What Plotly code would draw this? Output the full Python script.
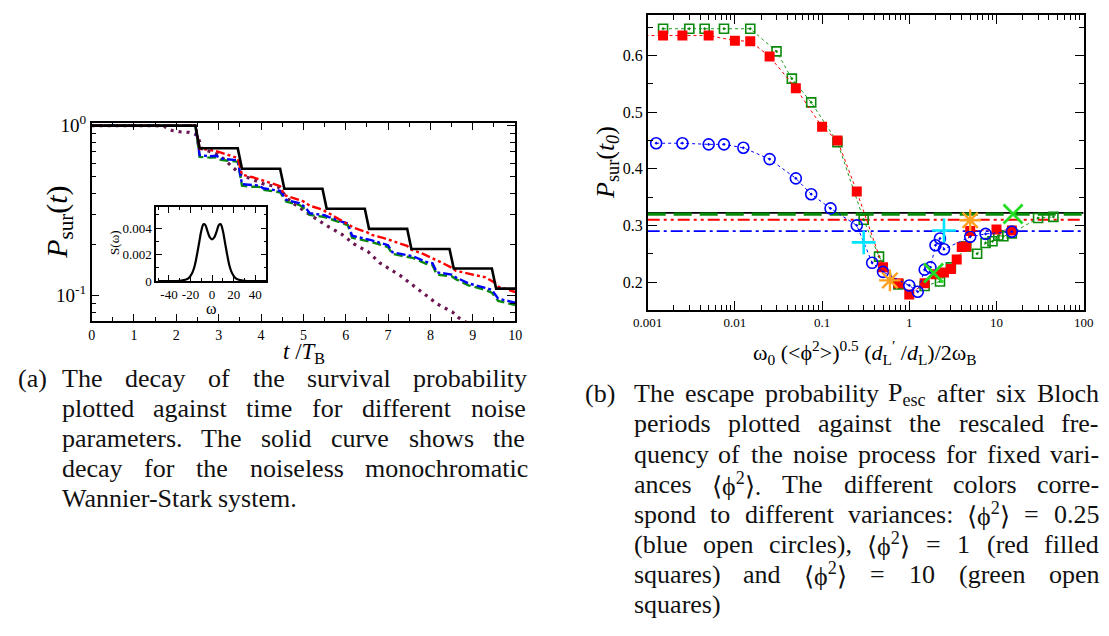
import re
import plotly.graph_objects as go

W, H = 1109, 636
SERIF = "Liberation Serif"

# ---------------- panel (a): survival probability vs time ----------------
t_black = [0, 2.45, 2.55, 3.45, 3.55, 4.45, 4.55, 5.45, 5.55, 6.45, 6.55, 7.45, 7.55,
           8.45, 8.55, 9.45, 9.55, 10.0]
p_black = [1.0, 1.0, 0.736, 0.736, 0.558, 0.558, 0.425, 0.425, 0.324, 0.324, 0.247, 0.247,
           0.188, 0.188, 0.1445, 0.1445, 0.110, 0.110]

t_red = [0, 2.45, 2.55, 2.8, 3.0, 3.3, 3.45, 3.55, 3.8, 4.2, 4.45, 4.55, 5.0, 5.15, 5.45,
         5.6, 6.2, 6.5, 6.6, 6.9, 7.45, 7.55, 7.8, 8.25, 8.5, 8.6, 9.3, 9.5, 9.6, 10.0]
p_red = [1.0, 1.0, 0.73, 0.72, 0.70, 0.66, 0.645, 0.515, 0.497, 0.462, 0.44, 0.39, 0.358,
         0.338, 0.32, 0.305, 0.25, 0.236, 0.228, 0.218, 0.196, 0.186, 0.177, 0.157, 0.146,
         0.14, 0.128, 0.12, 0.113, 0.105]

t_blue = [0, 2.45, 2.55, 2.8, 2.95, 3.05, 3.45, 3.55, 3.8, 3.95, 4.05, 4.45, 4.6, 4.9, 5.05,
          5.15, 5.5, 5.6, 5.95, 6.05, 6.15, 6.5, 6.6, 7.0, 7.1, 7.3, 7.6, 7.9, 8.05, 8.15,
          8.5, 8.6, 8.9, 9.3, 9.45, 9.6, 10.0]
p_blue = [1.0, 1.0, 0.67, 0.66, 0.665, 0.64, 0.625, 0.452, 0.447, 0.445, 0.428, 0.413, 0.365,
          0.35, 0.33, 0.305, 0.297, 0.29, 0.27, 0.266, 0.225, 0.215, 0.212, 0.198, 0.18,
          0.176, 0.17, 0.158, 0.155, 0.137, 0.133, 0.128, 0.118, 0.111, 0.108, 0.096, 0.091]

t_green = t_blue
p_green = [1.0, 1.0, 0.655, 0.648, 0.652, 0.628, 0.613, 0.443, 0.437, 0.436, 0.42, 0.405,
           0.357, 0.342, 0.322, 0.298, 0.29, 0.284, 0.264, 0.26, 0.219, 0.21, 0.207, 0.193,
           0.176, 0.172, 0.166, 0.154, 0.151, 0.133, 0.13, 0.125, 0.115, 0.108, 0.104,
           0.093, 0.088]

t_purple = [0, 1.5, 1.72, 1.9, 2.08, 2.3, 2.5, 2.6, 2.96, 3.1, 3.54, 3.73, 4.08, 4.4, 4.7,
            5.1, 5.56, 5.9, 6.2, 6.53, 6.8, 7.29, 7.58, 7.87, 8.17, 8.52, 8.67, 9.0]
p_purple = [1.0, 1.0, 0.987, 0.936, 0.92, 0.912, 0.88, 0.73, 0.68, 0.642, 0.511, 0.49,
            0.452, 0.436, 0.357, 0.305, 0.257, 0.230, 0.201, 0.181, 0.156, 0.131, 0.115,
            0.1017, 0.089, 0.080, 0.074, 0.066]

# inset: noise spectrum S(omega)
omega = [-50, -40, -30, -25, -22, -20, -18, -16, -14, -12, -10, -8, -7, -6, -4, -2, 0,
         2, 4, 6, 7, 8, 10, 12, 14, 16, 18, 20, 22, 25, 30, 40, 50]
s_omega = [0, 0, 0.00002, 0.0001, 0.0002, 0.0004, 0.0007, 0.0012, 0.002, 0.0029, 0.0038,
           0.0043, 0.0043, 0.0042, 0.0037, 0.0033, 0.00315, 0.0033, 0.0037, 0.0042, 0.0043,
           0.0043, 0.0038, 0.0029, 0.002, 0.0012, 0.0007, 0.0004, 0.0002, 0.0001, 0.00002,
           0, 0]
inset_xticks = [-40, -20, 0, 20, 40]
inset_xlabels = ["-40", "-20", "0", "20", "40"]

# ---------------- panel (b): survival at t0 vs rescaled frequency ----------------
x_blue = [0.00125, 0.0025, 0.005, 0.0075, 0.0125, 0.025, 0.05, 0.075, 0.125, 0.25, 0.375,
          0.5, 1.0, 1.25, 1.5, 1.75, 2.0, 2.25, 2.5, 5.0, 7.5, 15.0]
y_blue = [0.445, 0.445, 0.443, 0.443, 0.437, 0.417, 0.383, 0.355, 0.330, 0.300, 0.234,
          0.218, 0.194, 0.183, 0.222, 0.226, 0.265, 0.277, 0.258, 0.280, 0.285, 0.289]

x_red = [0.0005, 0.0015, 0.0025, 0.005, 0.01, 0.015, 0.025, 0.05, 0.1, 0.15, 0.25, 0.5,
         0.75, 1.0, 1.5, 2.0, 2.5, 3.0, 3.5, 4.0, 4.5, 5.0, 10.0, 15.0]
y_red = [0.635, 0.635, 0.635, 0.635, 0.626, 0.625, 0.598, 0.542, 0.474, 0.450, 0.360,
         0.226, 0.198, 0.178, 0.198, 0.214, 0.217, 0.223, 0.240, 0.262, 0.263, 0.290,
         0.293, 0.291]

x_green = [0.0015, 0.003, 0.0045, 0.0075, 0.015, 0.03, 0.045, 0.075, 0.15, 0.3, 0.45, 0.75,
           1.5, 2.25, 3.0, 4.5, 6.0, 7.5, 9.0, 10.5, 12.0, 15.0, 30.0, 45.0]
y_green = [0.647, 0.647, 0.647, 0.647, 0.647, 0.607, 0.559, 0.517, 0.447, 0.310, 0.245,
           0.196, 0.193, 0.201, 0.226, 0.263, 0.250, 0.269, 0.272, 0.282, 0.281, 0.286,
           0.313, 0.315]

# noiseless / limiting levels drawn as horizontal lines
level_black = 0.322
level_green = 0.320
level_red = 0.310
level_blue = 0.290

x_cyan = [0.3, 2.5]
y_cyan = [0.270, 0.291]
x_orange = [0.6, 5.0]
y_orange = [0.203, 0.309]
x_lime = [1.9, 15.5]
y_lime = [0.216, 0.320]


def px(x):
    return x / W


def py(y):
    return 1 - y / H


fig = go.Figure()

# panel (a) curves
fig.add_trace(go.Scatter(x=t_purple, y=p_purple, mode="lines", xaxis="x", yaxis="y",
                         line=dict(color="#6a1650", width=3.2, dash="3px,5px")))
fig.add_trace(go.Scatter(x=t_green, y=p_green, mode="lines", xaxis="x", yaxis="y",
                         line=dict(color="#0a8a0a", width=2.4, dash="9px,4px")))
fig.add_trace(go.Scatter(x=t_blue, y=p_blue, mode="lines", xaxis="x", yaxis="y",
                         line=dict(color="#0000ff", width=2.4, dash="9px,3px,3px,3px")))
fig.add_trace(go.Scatter(x=t_red, y=p_red, mode="lines", xaxis="x", yaxis="y",
                         line=dict(color="#ff0000", width=2.4,
                                   dash="9px,3px,3px,3px,3px,3px")))
fig.add_trace(go.Scatter(x=t_black, y=p_black, mode="lines", xaxis="x", yaxis="y",
                         line=dict(color="#000000", width=2.6)))

# inset
fig.add_trace(go.Scatter(x=omega, y=s_omega, mode="lines", xaxis="x2", yaxis="y2",
                         line=dict(color="#000000", width=2.2, shape="spline")))

# panel (b) horizontal reference levels
for lev, col, wd, dsh in [(level_blue, "#0000ff", 1.8, "12px,4px,3px,4px"),
                          (level_red, "#ff0000", 1.8, "12px,4px,3px,4px,3px,4px"),
                          (level_black, "#000000", 1.8, "solid"),
                          (level_green, "#0a8a0a", 3.2, "18px,8px")]:
    fig.add_trace(go.Scatter(x=[0.001, 100], y=[lev, lev], mode="lines",
                             xaxis="x3", yaxis="y3",
                             line=dict(color=col, width=wd, dash=dsh)))

fig.add_trace(go.Scatter(x=x_green, y=y_green, mode="lines+markers", xaxis="x3", yaxis="y3",
                         line=dict(color="#1a9a1a", width=1, dash="dot"),
                         marker=dict(symbol="square-open-dot", size=9, color="#0a8a0a",
                                     line=dict(width=1.6, color="#0a8a0a"))))
fig.add_trace(go.Scatter(x=x_red, y=y_red, mode="lines+markers", xaxis="x3", yaxis="y3",
                         line=dict(color="#ff0000", width=1, dash="dot"),
                         marker=dict(symbol="square", size=10, color="#ff0000")))
fig.add_trace(go.Scatter(x=x_blue, y=y_blue, mode="lines+markers", xaxis="x3", yaxis="y3",
                         line=dict(color="#0000ff", width=1, dash="dot"),
                         marker=dict(symbol="circle-open-dot", size=11, color="#0000ff",
                                     line=dict(width=1.6, color="#0000ff"))))
fig.add_trace(go.Scatter(x=x_cyan, y=y_cyan, mode="markers", xaxis="x3", yaxis="y3",
                         marker=dict(symbol="cross-thin", size=17,
                                     line=dict(width=2.6, color="#00e5ff"))))
fig.add_trace(go.Scatter(x=x_orange, y=y_orange, mode="markers", xaxis="x3", yaxis="y3",
                         marker=dict(symbol="asterisk", size=18,
                                     line=dict(width=2.4, color="#ffa020"))))
fig.add_trace(go.Scatter(x=x_lime, y=y_lime, mode="markers", xaxis="x3", yaxis="y3",
                         marker=dict(symbol="x-thin", size=19,
                                     line=dict(width=2.8, color="#22dd22"))))

frame = dict(showline=True, linecolor="black", linewidth=1.6, mirror="allticks",
             ticks="inside", tickcolor="black", tickwidth=1.2, showgrid=False,
             zeroline=False, tickangle=0)

decade_minor = [m * 10.0 ** e for e in range(-3, 2) for m in range(2, 10)]

fig.update_layout(
    width=W, height=H, margin=dict(l=0, r=0, t=0, b=0),
    paper_bgcolor="white", plot_bgcolor="white", showlegend=False,
    font=dict(family=SERIF, color="black"),
    xaxis=dict(frame, domain=[px(78.4), px(511.7)], range=[0, 10], anchor="y",
               tickvals=list(range(11)), ticklen=7, tickfont=dict(size=14),
               minor=dict(tickvals=[k + 0.5 for k in range(10)], ticklen=4,
                          ticks="inside", tickcolor="black")),
    yaxis=dict(frame, domain=[py(320), py(116)], type="log", range=[-1.149, 0.017],
               anchor="x", tickvals=[0.1, 1], ticktext=["10<sup>-1</sup>", "10<sup>0</sup>"],
               ticklen=8, tickfont=dict(size=19),
               minor=dict(tickvals=[0.08, 0.09] + [k / 10 for k in range(2, 10)],
                          ticklen=5, ticks="inside", tickcolor="black")),
    xaxis2=dict(frame, domain=[px(144.3), px(257.3)], range=[-52, 50.5], anchor="y2",
                tickvals=inset_xticks, ticktext=inset_xlabels, ticklen=6,
                tickfont=dict(size=13),
                minor=dict(tickvals=[-50, -30, -10, 10, 30, 50], ticklen=3,
                           ticks="inside", tickcolor="black")),
    yaxis2=dict(frame, domain=[py(279), py(202.7)], range=[0, 0.0056], anchor="x2",
                tickvals=[0, 0.002, 0.004], ticktext=["0", "0.002", "0.004"], ticklen=6,
                tickfont=dict(size=13),
                minor=dict(tickvals=[0.001, 0.003, 0.005], ticklen=3,
                           ticks="inside", tickcolor="black")),
    xaxis3=dict(frame, domain=[px(647.3), px(1093.3)], type="log", range=[-3, 2],
                anchor="y3", tickvals=[0.001, 0.01, 0.1, 1, 10, 100],
                ticktext=["0.001", "0.01", "0.1", "1", "10", "100"], ticklen=9,
                tickfont=dict(size=13),
                minor=dict(tickvals=decade_minor, ticklen=5, ticks="inside",
                           tickcolor="black")),
    yaxis3=dict(frame, domain=[py(308.3), py(5)], range=[0.1515, 0.6715], anchor="x3",
                tickvals=[0.2, 0.3, 0.4, 0.5, 0.6], ticktext=["0.2", "0.3", "0.4", "0.5", "0.6"],
                ticklen=9, tickfont=dict(size=16),
                minor=dict(tickvals=[0.25, 0.35, 0.45, 0.55, 0.65], ticklen=5,
                           ticks="inside", tickcolor="black")),
)

annotations = []


def label(text, x, y, size, angle=0, xanchor="center"):
    annotations.append(dict(text=text, x=px(x), y=py(y), xref="paper", yref="paper",
                            showarrow=False, textangle=angle, xanchor=xanchor,
                            yanchor="middle", borderpad=0,
                            font=dict(family=SERIF, size=size, color="black")))


# axis titles
label("<i>P</i><sub>sur</sub>(<i>t</i>)", 45, 218, 30, angle=-90)
label("<i>t</i> /<i>T</i><sub>B</sub>", 296, 353, 23)
label("S(ω)", 101, 240, 13, angle=-90)
label("ω", 201, 307, 16)
label("<i>P</i><sub>sur</sub>(<i>t<sub>0</sub></i>)", 605, 157, 26, angle=-90)
label("ω<sub>0</sub> (&lt;ϕ<sup>2</sup>&gt;)<sup>0.5</sup> (<i>d</i><sub>L</sub><sup>′</sup> /<i>d</i><sub>L</sub>)/2ω<sub>B</sub>",
      870, 352, 22)

# ---------------- justified captions ----------------
_low = dict(zip("abcdefghijklmnopqrstuvwxyz",
                [444, 500, 444, 500, 444, 333, 500, 500, 278, 278, 500, 278, 778, 500, 500,
                 500, 500, 333, 389, 278, 500, 500, 722, 500, 500, 444]))
_up = dict(zip("ABCDEFGHIJKLMNOPQRSTUVWXYZ",
               [722, 667, 667, 722, 611, 556, 722, 722, 333, 389, 722, 611, 889, 722, 722,
                556, 722, 667, 556, 611, 722, 722, 944, 722, 722, 611]))
_oth = {"(": 333, ")": 333, ",": 250, ".": 250, ":": 278, "-": 333, "=": 564, " ": 250,
        "⟨": 333, "⟩": 333, "ϕ": 600}


def glyph_w(ch):
    if ch.isdigit():
        return 500
    return _low.get(ch, _up.get(ch, _oth.get(ch, 500)))


def text_w(html, size):
    total = 0.0
    for m in re.finditer(r"<(sup|sub)>(.*?)</\1>|([^<]+)", html):
        s, k = (m.group(3), 1.0) if m.group(3) else (m.group(2), 0.7)
        total += k * sum(glyph_w(c) for c in s)
    return total * size / 1000.0


CAP = 26


def caption_line(words, left, right, y, justify=True):
    widths = [text_w(w, CAP) for w in words]
    if justify and len(words) > 1:
        gap = (right - left - sum(widths)) / (len(words) - 1)
    else:
        gap = CAP * 0.25
    x = left
    for w, wd in zip(words, widths):
        annotations.append(dict(text=w, x=px(x), y=py(y), xref="paper", yref="paper",
                                showarrow=False, xanchor="left", yanchor="middle",
                                borderpad=0, font=dict(family=SERIF, size=CAP,
                                                       color="#111111")))
        x += wd + gap


PHI = "⟨ϕ<sup>2</sup>⟩"
cap_a = [
    "The decay of the survival probability".split(),
    "plotted against time for different noise".split(),
    "parameters. The solid curve shows the".split(),
    "decay for the noiseless monochromatic".split(),
    "Wannier-Stark system.".split(),
]
cap_b = [
    ["The", "escape", "probability", "P<sub>esc</sub>", "after", "six", "Bloch"],
    "periods plotted against the rescaled fre-".split(),
    "quency of the noise process for fixed vari-".split(),
    ["ances", PHI + ".", "The", "different", "colors", "corre-"],
    ["spond", "to", "different", "variances:", PHI, "=", "0.25"],
    ["(blue", "open", "circles),", PHI, "=", "1", "(red", "filled"],
    ["squares)", "and", PHI, "=", "10", "(green", "open"],
    ["squares)"],
]

LINE = 31
ya0, yb0 = 379, 395
caption_line(["(a)"], 2, 2, ya0, justify=False)
for i, words in enumerate(cap_a):
    caption_line(words, 47, 520, ya0 + i * LINE, justify=(i < len(cap_a) - 1))
caption_line(["(b)"], 582, 582, yb0, justify=False)
for i, words in enumerate(cap_b):
    caption_line(words, 632, 1107, yb0 + i * LINE, justify=(i < len(cap_b) - 1))

fig.update_layout(annotations=annotations)
fig.write_html("out.html")
